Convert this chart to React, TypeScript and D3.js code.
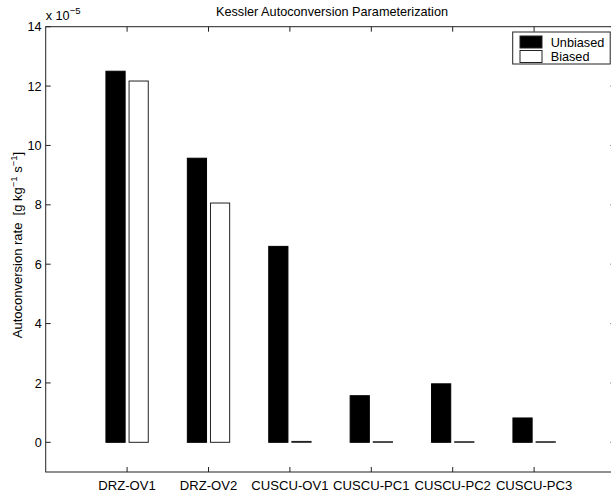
import React, { useEffect, useRef } from 'react';
import * as d3 from 'd3';

const categories = ['DRZ-OV1', 'DRZ-OV2', 'CUSCU-OV1', 'CUSCU-PC1', 'CUSCU-PC2', 'CUSCU-PC3'];
const seriesNames = ['Unbiased', 'Biased'];
const unbiased = [12.5, 9.57, 6.6, 1.57, 1.97, 0.82];
const biased = [12.17, 8.06, 0.03, 0.02, 0.02, 0.02];
const yTicks = [0, 2, 4, 6, 8, 10, 12, 14];

const W = 611;
const H = 493;
const FONT = '"Liberation Sans", Arial, Helvetica, sans-serif';

const App = () => {
  const ref = useRef<SVGSVGElement>(null);

  useEffect(() => {
    const svg = d3.select(ref.current);
    svg.selectAll('*').remove();

    const left = 45.7, right = 615.5, top = 26.7, bottom = 472;

    const x = d3.scaleLinear().domain([0, 7]).range([left, right]);
    const y = d3.scaleLinear().domain([-1, 14]).range([bottom, top]);
    const unit = x(1) - x(0);
    // offsets of the two bars inside a group, in category units
    const inner = d3.scaleBand().domain(seriesNames).range([-0.26, 0.26]).paddingInner(0.17);

    const g = svg.append('g');

    // bars
    const rows = categories.map((c, i) => ({ c, i: i + 1, vals: [unbiased[i], biased[i]] }));
    rows.forEach(r => {
      r.vals.forEach((v, k) => {
        const name = seriesNames[k];
        const x0 = x(r.i) + (inner(name) as number) * unit;
        g.append('rect')
          .attr('x', x0)
          .attr('y', y(v))
          .attr('width', inner.bandwidth() * unit)
          .attr('height', Math.max(y(0) - y(v), 0.01))
          .attr('fill', k === 0 ? '#000' : '#fff')
          .attr('stroke', k === 0 ? '#000' : '#222')
          .attr('stroke-width', 1);
      });
    });

    // box
    g.append('rect')
      .attr('x', left).attr('y', top)
      .attr('width', right - left).attr('height', bottom - top)
      .attr('fill', 'none').attr('stroke', '#222').attr('stroke-width', 1);

    // y ticks, inward on both sides
    yTicks.forEach(t => {
      g.append('line').attr('x1', left).attr('x2', left + 5).attr('y1', y(t)).attr('y2', y(t)).attr('stroke', '#222');
      g.append('line').attr('x1', right).attr('x2', right - 5).attr('y1', y(t)).attr('y2', y(t)).attr('stroke', '#222');
      g.append('text')
        .attr('x', left - 4)
        .attr('y', y(t))
        .attr('dy', '0.36em')
        .attr('text-anchor', 'end')
        .style('font-family', FONT)
        .style('font-size', '12.7px')
        .text(t);
    });

    // x ticks, inward top and bottom
    categories.forEach((c, i) => {
      const xi = x(i + 1);
      g.append('line').attr('x1', xi).attr('x2', xi).attr('y1', bottom).attr('y2', bottom - 5).attr('stroke', '#222');
      g.append('line').attr('x1', xi).attr('x2', xi).attr('y1', top).attr('y2', top + 5).attr('stroke', '#222');
      g.append('text')
        .attr('x', xi)
        .attr('y', 490)
        .attr('text-anchor', 'middle')
        .style('font-family', FONT)
        .style('font-size', '13.1px')
        .text(c);
    });

    // title
    g.append('text')
      .attr('x', 332)
      .attr('y', 16)
      .attr('text-anchor', 'middle')
      .style('font-family', FONT)
      .style('font-size', '12.7px')
      .text('Kessler Autoconversion Parameterization');

    // exponent
    const ex = g.append('text')
      .attr('x', left)
      .attr('y', 20)
      .style('font-family', FONT)
      .style('font-size', '12.7px');
    ex.append('tspan').text('x 10');
    ex.append('tspan').attr('dy', -6).style('font-size', '9.5px').text('\u22125');

    // y label
    const yl = g.append('text')
      .attr('transform', `translate(22,245) rotate(-90)`)
      .attr('text-anchor', 'middle')
      .style('font-family', FONT)
      .style('font-size', '13px')
      .style('white-space', 'pre');
    yl.append('tspan').text('Autoconversion rate  [g kg');
    yl.append('tspan').attr('dy', -5).style('font-size', '9.5px').text('\u22121');
    yl.append('tspan').attr('dy', 5).text(' s');
    yl.append('tspan').attr('dy', -5).style('font-size', '9.5px').text('\u22121');
    yl.append('tspan').attr('dy', 5).text(']');

    // legend
    const lg = g.append('g');
    lg.append('rect').attr('x', 512.7).attr('y', 32).attr('width', 97.5).attr('height', 32)
      .attr('fill', '#fff').attr('stroke', '#222');
    seriesNames.forEach((s, k) => {
      const yy = 36 + k * 14.5;
      lg.append('rect').attr('x', 520).attr('y', yy).attr('width', 22).attr('height', 12)
        .attr('fill', k === 0 ? '#000' : '#fff').attr('stroke', '#222');
      lg.append('text').attr('x', 550.7).attr('y', yy + 10.5)
        .style('font-family', FONT).style('font-size', '12.7px').text(s);
    });
  }, []);

  return (
    <svg
      ref={ref}
      width={W}
      height={H}
      style={{ position: 'absolute', left: 0, top: 0, background: '#fff' }}
    />
  );
};

export default App;
